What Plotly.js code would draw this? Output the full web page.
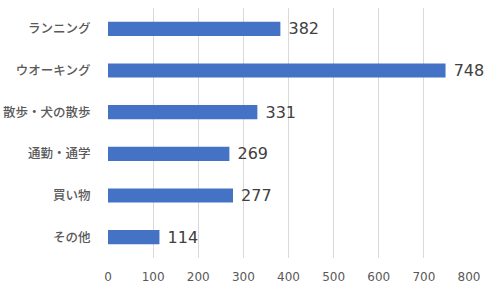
<!DOCTYPE html>
<html>
<head>
<meta charset="utf-8">
<script src="https://cdn.plot.ly/plotly-3.0.1.min.js"></script>
<style>html,body{margin:0;padding:0;background:#fff;}#chart{width:500px;height:293px;}</style>
</head>
<body>
<div id="chart"></div>
<script>
const categories = ["ランニング", "ウオーキング", "散歩・犬の散歩", "通勤・通学", "買い物", "その他"];
const values = [382, 748, 331, 269, 277, 114];
const xTicks = [0, 100, 200, 300, 400, 500, 600, 700, 800];

const trace = {
  type: "bar",
  orientation: "h",
  y: categories,
  x: values,
  text: values.map(v => " " + v),
  textposition: "outside",
  constraintext: "none",
  cliponaxis: false,
  textfont: {family: "DejaVu Sans, Noto Sans CJK JP", size: 16, color: "#404040"},
  marker: {color: "#4472C4"},
  hoverinfo: "none"
};

const layout = {
  width: 500,
  height: 293,
  margin: {l: 108, r: 31, t: 8, b: 35},
  paper_bgcolor: "#ffffff",
  plot_bgcolor: "#ffffff",
  bargap: 0.66,
  showlegend: false,
  font: {family: "DejaVu Sans, Noto Sans CJK JP", color: "#595959", size: 12},
  xaxis: {
    range: [0, 800],
    tickvals: xTicks,
    ticktext: xTicks.map(String),
    showgrid: true,
    gridcolor: "#d9d9d9",
    gridwidth: 1,
    zeroline: false,
    showline: false,
    ticks: "outside",
    ticklen: 8,
    tickcolor: "rgba(0,0,0,0)",
    tickfont: {family: "DejaVu Sans", size: 12, color: "#595959"},
    fixedrange: true
  },
  yaxis: {
    type: "category",
    autorange: "reversed",
    showgrid: false,
    zeroline: false,
    showline: false,
    ticks: "outside",
    ticklen: 14,
    tickcolor: "rgba(0,0,0,0)",
    tickfont: {family: "Noto Sans CJK JP", size: 12.5, color: "#595959", weight: 500},
    fixedrange: true
  }
};

Plotly.newPlot("chart", [trace], layout, {displayModeBar: false, staticPlot: true});
</script>
</body>
</html>
